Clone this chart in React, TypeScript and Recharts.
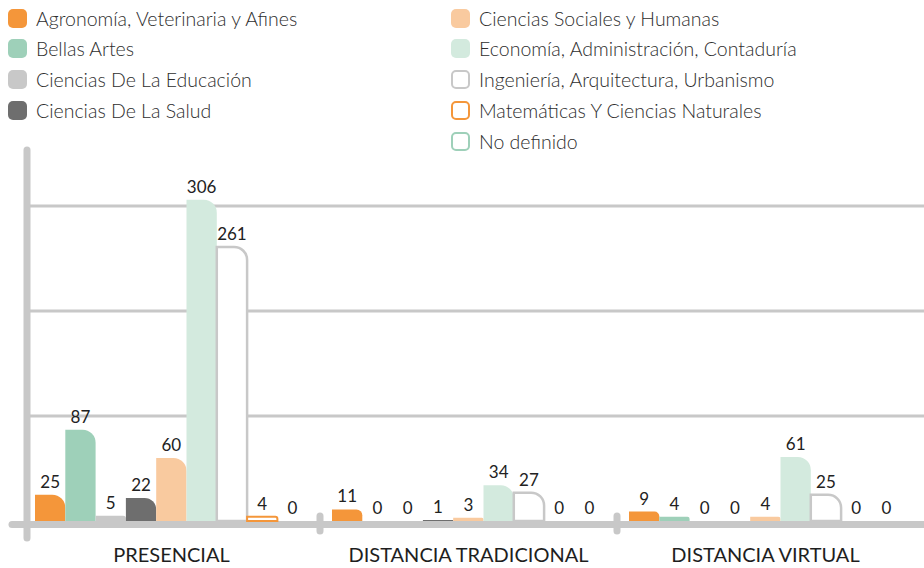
import React from 'react';
import { BarChart, Bar, XAxis, YAxis, CartesianGrid, LabelList, Rectangle } from 'recharts';

const categories = ['PRESENCIAL', 'DISTANCIA TRADICIONAL', 'DISTANCIA VIRTUAL'];

const agronomia = [25, 11, 9];
const bellasArtes = [87, 0, 4];
const educacion = [5, 0, 0];
const salud = [22, 1, 0];
const sociales = [60, 3, 4];
const economia = [306, 34, 61];
const ingenieria = [261, 27, 25];
const matematicas = [4, 0, 0];
const noDefinido = [0, 0, 0];

const gridTicks = [100, 200, 300];

const series = [
  { key: 'agro', name: 'Agronomía, Veterinaria y Afines', values: agronomia, fill: '#F4963A', stroke: 'none', col: 0 },
  { key: 'bellas', name: 'Bellas Artes', values: bellasArtes, fill: '#9ED0B9', stroke: 'none', col: 0 },
  { key: 'edu', name: 'Ciencias De La Educación', values: educacion, fill: '#C8C8C8', stroke: 'none', col: 0 },
  { key: 'salud', name: 'Ciencias De La Salud', values: salud, fill: '#6E6E6E', stroke: 'none', col: 0 },
  { key: 'soc', name: 'Ciencias Sociales y Humanas', values: sociales, fill: '#F9CA9F', stroke: 'none', col: 1 },
  { key: 'eco', name: 'Economía, Administración, Contaduría', values: economia, fill: '#D3EADE', stroke: 'none', col: 1 },
  { key: 'ing', name: 'Ingeniería, Arquitectura, Urbanismo', values: ingenieria, fill: '#FFFFFF', stroke: '#C8C8C8', col: 1 },
  { key: 'mat', name: 'Matemáticas Y Ciencias Naturales', values: matematicas, fill: '#FFFFFF', stroke: '#F4963A', col: 1 },
  { key: 'nd', name: 'No definido', values: noDefinido, fill: '#FFFFFF', stroke: '#9ED0B9', col: 1 },
];

const data = categories.map((c, i) => {
  const row: any = { name: c };
  series.forEach((s) => {
    row[s.key] = s.values[i];
  });
  return row;
});

const W = 924;
const H = 568;
const PLOT_LEFT = 27;
const PLOT_TOP = 153.5;
const XAXIS_H = 47;
const BASE_Y = H - XAXIS_H;
const PAD_L = -4;
const PAD_R = 10;
const BAND = (W - PLOT_LEFT - PAD_L - PAD_R) / categories.length;
const BAND_START = PLOT_LEFT + PAD_L;
const AXIS_GRAY = '#C8C8C8';
const FONT = 'Lato, "Open Sans", sans-serif';

function ValueLabel(props: any) {
  const { x, y, width, value } = props;
  if (value === undefined || value === null) return null;
  const cx = Number(x) + Number(width) / 2;
  return (
    <text x={cx} y={Number(y) - 7} textAnchor="middle" fontSize={17} fill="#222222" fontFamily={FONT}>
      {value}
    </text>
  );
}

function BarShape(props: any) {
  const h = Math.abs(Number(props.height) || 0);
  if (h < 0.5) return <g />;
  return <Rectangle {...props} />;
}

function Legend() {
  const rowY = [18, 48.5, 79, 110, 141];
  const colX = [8, 451];
  const counters = [0, 0];
  return (
    <div style={{ position: 'absolute', left: 0, top: 0, width: W, height: 160, fontFamily: FONT }}>
      {series.map((s) => {
        const r = counters[s.col]++;
        const outline = s.stroke !== 'none';
        return (
          <div
            key={s.key}
            style={{
              position: 'absolute',
              left: colX[s.col],
              top: rowY[r] - 11,
              height: 22,
              display: 'flex',
              alignItems: 'center',
              whiteSpace: 'nowrap',
            }}
          >
            <div
              style={{
                width: 19,
                height: 19,
                boxSizing: 'border-box',
                borderRadius: 5,
                background: s.fill,
                border: outline ? `2.5px solid ${s.stroke}` : 'none',
                marginRight: 9,
                flexShrink: 0,
              }}
            />
            <span style={{ fontSize: 19.5, fontWeight: 300, color: '#2E2E2E' }}>{s.name}</span>
          </div>
        );
      })}
    </div>
  );
}

function Decorations() {
  const boundaries = [];
  for (let k = 1; k < categories.length; k++) boundaries.push(BAND_START + BAND * k);
  const lineY = BASE_Y + 3.5;
  return (
    <svg width={W} height={H} style={{ position: 'absolute', left: 0, top: 0 }}>
      <line x1={PLOT_LEFT} y1={150} x2={PLOT_LEFT} y2={538} stroke={AXIS_GRAY} strokeWidth={7} strokeLinecap="round" />
      <line x1={12} y1={lineY} x2={W + 10} y2={lineY} stroke={AXIS_GRAY} strokeWidth={7} strokeLinecap="round" />
      {boundaries.map((x, i) => (
        <line key={i} x1={x} y1={516} x2={x} y2={531} stroke={AXIS_GRAY} strokeWidth={7} strokeLinecap="round" />
      ))}
    </svg>
  );
}

export default function App() {
  return (
    <div style={{ position: 'absolute', left: 0, top: 0, width: W, height: H, background: '#fff', overflow: 'hidden' }}>
      <Decorations />
      <div style={{ position: 'absolute', left: 0, top: 0 }}>
        <BarChart
          width={W}
          height={H}
          data={data}
          margin={{ top: PLOT_TOP, right: 0, left: PLOT_LEFT, bottom: 0 }}
          barGap={0}
          barSize={30.3}
        >
          <CartesianGrid vertical={false} horizontalValues={gridTicks} stroke={AXIS_GRAY} strokeWidth={3} />
          <YAxis hide domain={[0, 350]} ticks={gridTicks} />
          <XAxis
            dataKey="name"
            height={XAXIS_H}
            axisLine={false}
            tickLine={false}
            padding={{ left: PAD_L, right: PAD_R }}
            tickMargin={21}
            tick={{ fontSize: 20, fill: '#1E1E1E', fontFamily: FONT }}
            interval={0}
          />
          {series.map((s) => (
            <Bar
              key={s.key}
              dataKey={s.key}
              name={s.name}
              fill={s.fill}
              stroke={s.stroke}
              strokeWidth={s.key === 'ing' ? 2.5 : 2}
              radius={[0, 13, 0, 0]}
              minPointSize={0.01}
              shape={<BarShape />}
              isAnimationActive={false}
            >
              <LabelList dataKey={s.key} content={<ValueLabel />} />
            </Bar>
          ))}
        </BarChart>
      </div>
      <Legend />
    </div>
  );
}
